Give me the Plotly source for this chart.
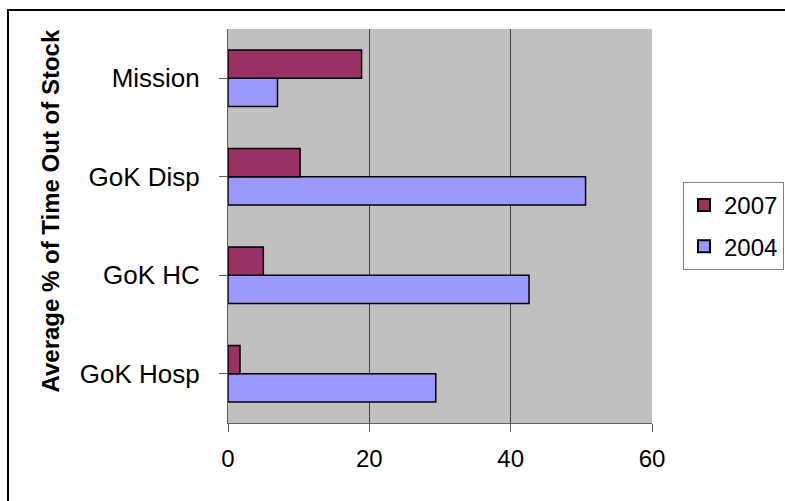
import plotly.graph_objects as go

# Outlet types, listed bottom to top
categories = ["GoK Hosp", "GoK HC", "GoK Disp", "Mission"]

# Average % of time out of stock
values_2004 = [29.4, 42.6, 50.6, 7.0]
values_2007 = [1.7, 5.0, 10.2, 18.9]

x_ticks = [0, 20, 40, 60]

FONT = "Liberation Sans, Arial, sans-serif"

fig = go.Figure()
fig.add_trace(go.Bar(
    y=categories, x=values_2004, name="2004", orientation="h",
    legendgroup="g2004", legendrank=2,
    marker=dict(color="#9999FF", line=dict(color="#000000", width=1.5)),
))
fig.add_trace(go.Bar(
    y=categories, x=values_2007, name="2007", orientation="h",
    legendgroup="g2007", legendrank=1,
    marker=dict(color="#993366", line=dict(color="#000000", width=1.5)),
))

fig.update_layout(
    width=785, height=501,
    margin=dict(l=228, r=133, t=29, b=78, autoexpand=False),
    paper_bgcolor="#FFFFFF",
    plot_bgcolor="#C0C0C0",
    barmode="group",
    bargap=0.425,
    bargroupgap=0,
    font=dict(family=FONT, size=26, color="#000000"),
    showlegend=True,
    legend=dict(
        x=(683 - 228) / 424, y=0.612, xanchor="left", yanchor="top",
        traceorder="grouped", tracegroupgap=7,
        bgcolor="#FFFFFF", bordercolor="#808080", borderwidth=1,
        font=dict(family=FONT, size=24, color="#000000"),
        itemsizing="constant",
    ),
    xaxis=dict(
        range=[0, 60], tickvals=x_ticks, ticktext=[str(v) for v in x_ticks],
        tickfont=dict(family=FONT, size=24, color="#000000"),
        showgrid=True, gridcolor="#404040", gridwidth=1,
        showline=True, linecolor="#606060", linewidth=1,
        ticks="outside", ticklen=8, tickcolor="#606060",
        zeroline=False, fixedrange=True,
        ticklabelstandoff=6,
    ),
    yaxis=dict(
        categoryorder="array", categoryarray=categories,
        showgrid=False,
        showline=True, linecolor="#606060", linewidth=1,
        ticks="outside", ticklen=8, tickcolor="#606060",
        showdividers=False,
        ticklabelstandoff=14,
        fixedrange=True,
    ),
    shapes=[dict(
        type="rect", xref="paper", yref="paper",
        x0=-0.5189, x1=1.33, y0=-0.23, y1=1.0482,
        line=dict(color="#000000", width=2), fillcolor="rgba(0,0,0,0)",
        layer="above",
    )],
    annotations=[dict(
        text="<b>Average % of Time Out of Stock</b>",
        xref="paper", yref="paper",
        x=(50 - 228) / 424, y=(423 - 211.5) / 394,
        xanchor="center", yanchor="middle",
        textangle=-90, showarrow=False,
        font=dict(family=FONT, size=24, color="#000000"),
    )],
)

fig.write_html("out.html")
